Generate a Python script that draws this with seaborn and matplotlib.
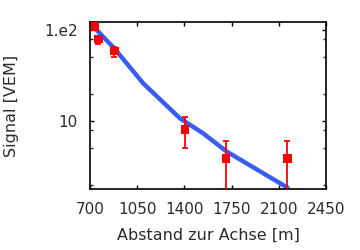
import matplotlib
matplotlib.use("Agg")
import matplotlib.pyplot as plt
import matplotlib.ticker as mticker
import numpy as np
import pandas as pd
import seaborn as sns

# Measured points
distance = [737, 762, 880, 1404, 1710, 2163]
signal = [110, 79.6, 58.7, 8.1, 3.89, 3.89]
signal_low = [104, 69.6, 50, 5.0, 1.0, 1.0]
signal_high = [116, 86.6, 65.5, 11.0, 6.0, 6.0]

# Fitted LDF curve
fit_distance = [730, 880, 1095, 1367, 1540, 1713, 2165]
fit_signal = [107, 62.9, 25.9, 10.7, 7.3, 4.62, 1.85]

x_ticks = [700, 1050, 1400, 1750, 2100, 2450]

sns.set_style("ticks")
plt.rcParams["font.family"] = ["DejaVu Sans"]

txt_color = "#2b2b2b"

fig = plt.figure(figsize=(3.6, 2.5), dpi=100)
ax = fig.add_axes([0.25, 0.244, 0.6556, 0.6668])

fit_df = pd.DataFrame({"d": fit_distance, "s": fit_signal})
sns.lineplot(data=fit_df, x="d", y="s", ax=ax, color="#3b5cf0", linewidth=3.2,
             zorder=2)

sig = np.array(signal)
yerr = np.array([sig - np.array(signal_low), np.array(signal_high) - sig])
ax.errorbar(distance, signal, yerr=yerr, fmt="none", ecolor="#ff0000",
            elinewidth=1.3, capsize=2.5, capthick=1.3, zorder=3)
pts_df = pd.DataFrame({"d": distance, "s": signal})
sns.scatterplot(data=pts_df, x="d", y="s", ax=ax, marker="s", s=38,
                color="#ff0000", edgecolor="none", zorder=4)

ax.set_yscale("log")
ax.set_xlim(700, 2450)
ax.set_ylim(1.79, 121.5)
ax.set_xticks(x_ticks)
ax.set_xticklabels([str(t) for t in x_ticks])
ax.yaxis.set_major_locator(mticker.FixedLocator([10, 100]))
ax.yaxis.set_major_formatter(mticker.FixedFormatter(["10", "1.e2"]))
ax.yaxis.set_minor_locator(mticker.FixedLocator([2, 5, 8, 20, 50, 80]))
ax.yaxis.set_minor_formatter(mticker.NullFormatter())

ax.tick_params(axis="both", which="major", direction="in", length=3.2,
               width=1, top=True, right=True, labelsize=11, pad=9,
               colors="black", labelcolor=txt_color)
ax.tick_params(axis="y", which="minor", direction="in", length=2, width=1,
               left=True, right=True)
ax.tick_params(axis="x", which="minor", bottom=False, top=False)

for sp in ax.spines.values():
    sp.set_visible(True)
    sp.set_linewidth(1.2)
    sp.set_color("black")

ax.set_xlabel("Abstand zur Achse [m]", fontsize=11.5, labelpad=8, color=txt_color)
ax.set_ylabel("Signal [VEM]", fontsize=11.5, color=txt_color)
ax.yaxis.set_label_coords(-0.30, 0.5)

fig.savefig("out.png", dpi=100)
